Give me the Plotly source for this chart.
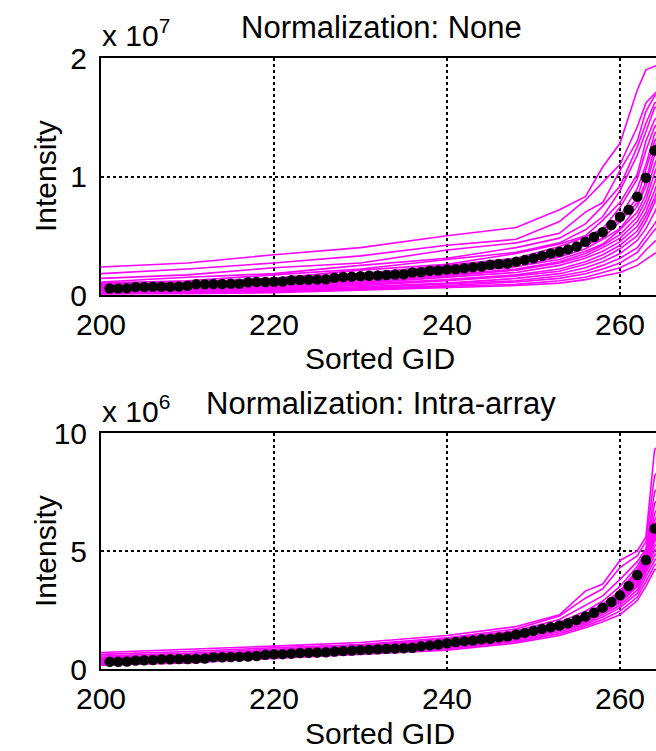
import plotly.graph_objects as go

# ---------------- data ----------------
GID_GRID = [200, 210, 220, 230, 240, 248, 253, 256, 258, 260, 262, 263, 264, 265]
GID_DOTS = [201, 202, 203, 204, 205, 206, 207, 208, 209, 210, 211, 212, 213, 214, 215, 216,
            217, 218, 219, 220, 221, 222, 223, 224, 225, 226, 227, 228, 229, 230, 231, 232,
            233, 234, 235, 236, 237, 238, 239, 240, 241, 242, 243, 244, 245, 246, 247, 248,
            249, 250, 251, 252, 253, 254, 255, 256, 257, 258, 259, 260, 261, 262, 263, 264]

# Top panel (units of 1e7)
TOP_MEAN = [0.055, 0.055, 0.056, 0.068, 0.068, 0.069, 0.069, 0.070, 0.071, 0.078, 0.090, 0.091,
            0.092, 0.093, 0.094, 0.095, 0.108, 0.109, 0.110, 0.112, 0.114, 0.125, 0.127, 0.128,
            0.130, 0.132, 0.145, 0.152, 0.155, 0.158, 0.162, 0.165, 0.168, 0.172, 0.175, 0.190,
            0.192, 0.205, 0.207, 0.215, 0.218, 0.225, 0.235, 0.240, 0.255, 0.262, 0.265, 0.280,
            0.295, 0.310, 0.330, 0.350, 0.365, 0.385, 0.410, 0.450, 0.490, 0.530, 0.590, 0.660,
            0.720, 0.830, 0.990, 1.220]

TOP_LINES = [
    [0.236, 0.27, 0.34, 0.40, 0.50, 0.57, 0.72, 0.83, 1.08, 1.28, 1.73, 1.90, 1.93, 1.95],
    [0.18, 0.22, 0.27, 0.33, 0.42, 0.47, 0.62, 0.80, 0.95, 1.10, 1.42, 1.62, 1.70, 1.75],
    [0.14, 0.17, 0.23, 0.27, 0.38, 0.44, 0.52, 0.70, 0.78, 1.05, 1.30, 1.55, 1.68, 1.72],
    [0.11, 0.15, 0.18, 0.25, 0.31, 0.40, 0.48, 0.60, 0.75, 0.92, 1.25, 1.45, 1.62, 1.65],
    [0.10, 0.12, 0.17, 0.22, 0.30, 0.36, 0.44, 0.55, 0.66, 0.88, 1.18, 1.38, 1.58, 1.62],
    [0.09, 0.11, 0.14, 0.21, 0.26, 0.35, 0.43, 0.50, 0.63, 0.78, 1.02, 1.30, 1.48, 1.55],
    [0.08, 0.10, 0.14, 0.18, 0.25, 0.31, 0.41, 0.49, 0.56, 0.74, 0.98, 1.22, 1.42, 1.50],
    [0.07, 0.09, 0.12, 0.17, 0.24, 0.30, 0.37, 0.46, 0.55, 0.66, 0.90, 1.10, 1.36, 1.45],
    [0.06, 0.08, 0.11, 0.16, 0.21, 0.28, 0.36, 0.43, 0.52, 0.64, 0.82, 1.06, 1.30, 1.40],
    [0.05, 0.07, 0.10, 0.15, 0.20, 0.27, 0.33, 0.42, 0.48, 0.62, 0.78, 0.96, 1.25, 1.38],
    [0.05, 0.07, 0.09, 0.14, 0.19, 0.24, 0.32, 0.39, 0.47, 0.56, 0.75, 0.92, 1.18, 1.32],
    [0.04, 0.06, 0.09, 0.13, 0.18, 0.24, 0.30, 0.37, 0.43, 0.55, 0.70, 0.85, 1.10, 1.28],
    [0.04, 0.06, 0.08, 0.12, 0.17, 0.22, 0.28, 0.35, 0.42, 0.51, 0.66, 0.80, 1.03, 1.22],
    [0.03, 0.05, 0.08, 0.11, 0.16, 0.21, 0.27, 0.33, 0.40, 0.48, 0.62, 0.75, 0.95, 1.15],
    [0.03, 0.05, 0.07, 0.10, 0.15, 0.19, 0.25, 0.31, 0.37, 0.45, 0.58, 0.70, 0.88, 1.08],
    [0.03, 0.04, 0.06, 0.09, 0.13, 0.17, 0.22, 0.28, 0.34, 0.42, 0.54, 0.66, 0.82, 1.02],
    [0.02, 0.04, 0.06, 0.08, 0.12, 0.16, 0.20, 0.26, 0.31, 0.39, 0.50, 0.62, 0.78, 0.95],
    [0.02, 0.03, 0.05, 0.07, 0.10, 0.14, 0.18, 0.23, 0.28, 0.35, 0.46, 0.56, 0.70, 0.85],
    [0.02, 0.03, 0.04, 0.06, 0.09, 0.12, 0.16, 0.20, 0.25, 0.31, 0.40, 0.50, 0.60, 0.72],
    [0.01, 0.02, 0.04, 0.05, 0.08, 0.11, 0.14, 0.18, 0.22, 0.27, 0.36, 0.45, 0.55, 0.62],
    [0.01, 0.02, 0.03, 0.05, 0.07, 0.09, 0.12, 0.15, 0.19, 0.23, 0.30, 0.38, 0.45, 0.50],
    [0.01, 0.01, 0.02, 0.04, 0.06, 0.08, 0.10, 0.13, 0.16, 0.19, 0.25, 0.30, 0.35, 0.38],
]

# Bottom panel (units of 1e6)
BOT_MEAN = [0.31, 0.31, 0.32, 0.36, 0.37, 0.38, 0.41, 0.41, 0.42, 0.42, 0.43, 0.44, 0.50, 0.50,
            0.51, 0.52, 0.53, 0.55, 0.60, 0.62, 0.63, 0.65, 0.68, 0.69, 0.70, 0.71, 0.74, 0.76,
            0.78, 0.80, 0.82, 0.84, 0.86, 0.87, 0.88, 0.90, 0.96, 1.00, 1.04, 1.09, 1.14, 1.18,
            1.21, 1.26, 1.28, 1.34, 1.38, 1.46, 1.53, 1.62, 1.70, 1.77, 1.84, 1.94, 2.08, 2.22,
            2.38, 2.60, 2.84, 3.12, 3.52, 3.98, 4.62, 5.95]

BOT_LINES = [
    [0.70, 0.82, 0.97, 1.12, 1.42, 1.80, 2.30, 3.30, 3.60, 4.60, 5.00, 5.60, 9.30, 9.60],
    [0.62, 0.74, 0.90, 1.04, 1.32, 1.70, 2.25, 3.00, 3.40, 4.30, 4.80, 5.40, 8.20, 8.60],
    [0.55, 0.66, 0.84, 1.00, 1.26, 1.62, 2.10, 2.70, 3.10, 3.80, 4.55, 5.10, 7.50, 8.00],
    [0.50, 0.60, 0.78, 0.95, 1.20, 1.56, 1.98, 2.45, 2.88, 3.50, 4.35, 5.00, 7.00, 7.60],
    [0.45, 0.56, 0.74, 0.92, 1.18, 1.52, 1.92, 2.32, 2.75, 3.30, 4.20, 4.90, 6.60, 7.20],
    [0.42, 0.53, 0.72, 0.90, 1.15, 1.50, 1.90, 2.28, 2.70, 3.25, 4.10, 4.80, 6.30, 7.00],
    [0.40, 0.50, 0.70, 0.88, 1.12, 1.48, 1.88, 2.25, 2.65, 3.20, 4.05, 4.70, 6.10, 6.80],
    [0.38, 0.48, 0.68, 0.86, 1.10, 1.46, 1.86, 2.22, 2.62, 3.15, 4.00, 4.65, 5.90, 6.60],
    [0.36, 0.46, 0.66, 0.84, 1.08, 1.44, 1.84, 2.20, 2.58, 3.10, 3.95, 4.60, 5.80, 6.40],
    [0.34, 0.44, 0.64, 0.82, 1.06, 1.42, 1.82, 2.18, 2.55, 3.05, 3.90, 4.55, 5.70, 6.30],
    [0.32, 0.42, 0.62, 0.80, 1.04, 1.40, 1.80, 2.15, 2.52, 3.00, 3.85, 4.50, 5.60, 6.20],
    [0.30, 0.40, 0.60, 0.78, 1.02, 1.38, 1.78, 2.12, 2.48, 2.95, 3.80, 4.45, 5.50, 6.00],
    [0.28, 0.38, 0.58, 0.76, 1.00, 1.36, 1.75, 2.08, 2.45, 2.90, 3.70, 4.40, 5.40, 5.90],
    [0.26, 0.36, 0.56, 0.74, 0.98, 1.34, 1.72, 2.05, 2.42, 2.85, 3.60, 4.30, 5.20, 5.70],
    [0.24, 0.34, 0.54, 0.72, 0.96, 1.32, 1.70, 2.02, 2.38, 2.80, 3.50, 4.20, 5.00, 5.50],
    [0.22, 0.32, 0.52, 0.70, 0.94, 1.28, 1.64, 1.96, 2.30, 2.70, 3.35, 4.05, 4.80, 5.30],
    [0.20, 0.30, 0.50, 0.68, 0.90, 1.22, 1.58, 1.90, 2.20, 2.60, 3.20, 3.90, 4.60, 5.00],
    [0.18, 0.28, 0.48, 0.66, 0.86, 1.16, 1.50, 1.82, 2.10, 2.45, 3.05, 3.70, 4.40, 4.70],
    [0.16, 0.26, 0.45, 0.62, 0.80, 1.10, 1.42, 1.75, 2.00, 2.30, 2.90, 3.50, 4.20, 4.40],
]

TITLES = ["Normalization: None", "Normalization: Intra-array"]
X_LABEL = "Sorted GID"
Y_LABEL = "Intensity"
EXPONENTS = ["7", "6"]
X_TICKS = [200, 220, 240, 260]
TOP_YTICKS = [0, 1, 2]
BOT_YTICKS = [0, 5, 10]

# ---------------- figure ----------------
W, H = 656, 751
FONT = "Liberation Sans, Arial, sans-serif"
MAGENTA = "#FF00FF"

def px(xp):
    return xp / W

def py(yp):
    return (H - yp) / H

fig = go.Figure()

for ln in TOP_LINES:
    fig.add_trace(go.Scatter(x=GID_GRID, y=ln, mode="lines", xaxis="x", yaxis="y",
                             line=dict(color=MAGENTA, width=1.6), hoverinfo="skip", showlegend=False))
fig.add_trace(go.Scatter(x=GID_DOTS, y=TOP_MEAN, mode="markers", xaxis="x", yaxis="y",
                         marker=dict(color="black", size=10.5), showlegend=False))

for ln in BOT_LINES:
    fig.add_trace(go.Scatter(x=GID_GRID, y=ln, mode="lines", xaxis="x2", yaxis="y2",
                             line=dict(color=MAGENTA, width=1.6), hoverinfo="skip", showlegend=False))
fig.add_trace(go.Scatter(x=GID_DOTS, y=BOT_MEAN, mode="markers", xaxis="x2", yaxis="y2",
                         marker=dict(color="black", size=10.5), showlegend=False))

XR = [200, 200 + (656 - 101) / 8.65]

def xaxis(anchor):
    return dict(domain=[px(101), 1.0], range=XR, anchor=anchor, tickvals=X_TICKS,
                showline=True, linecolor="black", linewidth=2, mirror=True,
                showgrid=True, gridcolor="black", griddash="dot", gridwidth=1.5,
                zeroline=False, ticks="", ticklabelstandoff=2, automargin=False,
                tickfont=dict(family=FONT, size=30, color="black"))

def yaxis(anchor, dom, rng, tv):
    return dict(domain=dom, range=rng, anchor=anchor, tickvals=tv,
                showline=True, linecolor="black", linewidth=2, mirror=False,
                showgrid=True, gridcolor="black", griddash="dot", gridwidth=1.5,
                zeroline=False, ticks="", ticklabelstandoff=6, automargin=False,
                tickfont=dict(family=FONT, size=30, color="black"))

fig.update_layout(
    width=W, height=H, margin=dict(l=0, r=0, t=0, b=0, autoexpand=False),
    paper_bgcolor="white", plot_bgcolor="white", showlegend=False,
    xaxis=xaxis("y"),
    yaxis=yaxis("x", [py(295), py(58)], [0, 2], TOP_YTICKS),
    xaxis2=xaxis("y2"),
    yaxis2=yaxis("x2", [py(669), py(433)], [0, 10], BOT_YTICKS),
)

ann = []
def txt(text, x, y, xa="center", ya="middle", angle=0, size=30):
    ann.append(dict(text=text, x=px(x), y=py(y), xref="paper", yref="paper",
                    xanchor=xa, yanchor=ya, showarrow=False, textangle=angle,
                    font=dict(family=FONT, size=size, color="black")))

txt(TITLES[0], 381, 27, size=31)
txt(TITLES[1], 381, 403, size=31)
txt(X_LABEL, 380, 358)
txt(X_LABEL, 380, 733)
txt(Y_LABEL, 45, 176, angle=-90)
txt(Y_LABEL, 45, 551, angle=-90)
txt("x 10<sup>" + EXPONENTS[0] + "</sup>", 100, 54, xa="left", ya="bottom")
txt("x 10<sup>" + EXPONENTS[1] + "</sup>", 100, 430, xa="left", ya="bottom")
fig.update_layout(annotations=ann)

fig.write_html("out.html")
